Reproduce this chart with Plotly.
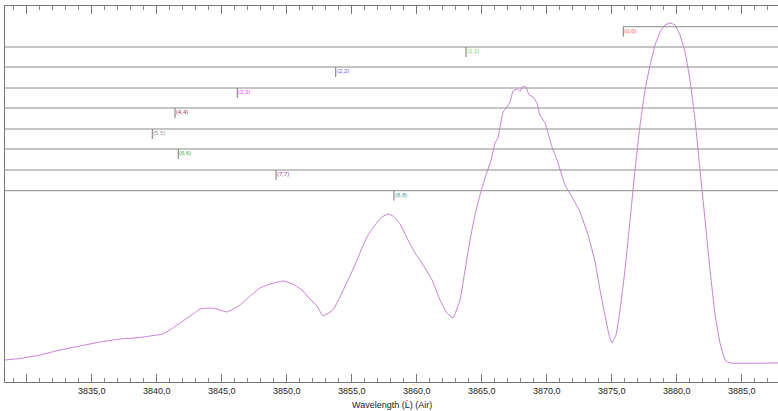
import plotly.graph_objects as go

# Spectrum (wavelength in Å, relative intensity in arbitrary units)
wavelength = [3828.33, 3829.48, 3831.02, 3832.56, 3834.10, 3835.64, 3837.18, 3838.72, 3839.48,
              3840.48, 3841.25, 3842.02, 3842.79, 3843.33, 3844.10, 3844.64, 3845.41, 3846.41,
              3847.18, 3847.95, 3848.72, 3849.72, 3850.48, 3851.25, 3851.79, 3852.33, 3852.79,
              3853.56, 3854.10, 3854.64, 3855.25, 3855.79, 3856.25, 3856.79, 3857.33, 3857.79,
              3858.18, 3858.72, 3859.33, 3859.87, 3860.64, 3861.18, 3861.79, 3862.33, 3862.79,
              3863.33, 3863.72, 3864.10, 3864.48, 3864.87, 3865.25, 3865.72, 3866.02, 3866.25,
              3866.41, 3866.64, 3866.95, 3867.18, 3867.41, 3867.72, 3867.95, 3868.18, 3868.41,
              3868.64, 3868.95, 3869.25, 3869.48, 3869.87, 3870.10, 3870.41, 3870.79, 3871.41,
              3871.95, 3872.56, 3873.18, 3873.72, 3874.10, 3874.48, 3874.79, 3875.02, 3875.33,
              3875.64, 3876.02, 3876.41, 3876.79, 3877.18, 3877.56, 3877.95, 3878.33, 3878.72,
              3879.10, 3879.48, 3879.87, 3880.25, 3880.64, 3881.02, 3881.41, 3881.79, 3882.18,
              3882.56, 3882.95, 3883.33, 3883.72, 3884.10, 3887.79]
intensity = [22, 23.5, 27, 32, 36, 40, 43, 44.5, 46,
             48, 54, 61, 68, 73, 74, 73, 70, 77,
             86, 94, 98, 101, 98, 91, 83, 76, 66,
             72, 85, 100, 117, 134, 147, 157, 165, 168,
             166, 158, 142, 129, 114, 102, 82, 69, 64,
             82, 112, 142, 167, 187, 204, 222, 239, 244,
             255, 270, 275, 280, 291, 293, 291, 296, 295,
             287, 285, 279, 267, 259, 249, 235, 222, 197,
             185, 170, 147, 120, 92, 67, 47, 39, 47,
             72, 112, 162, 212, 257, 292, 317, 337, 350,
             357, 359, 357, 347, 330, 302, 262, 212, 162,
             112, 67, 39, 22, 19, 19]

# Band heads
band_labels = ["(0,0)", "(1,1)", "(2,2)", "(3,3)", "(4,4)", "(5,5)", "(6,6)", "(7,7)", "(8,8)"]
band_heads = [3875.89, 3863.79, 3853.77, 3846.20, 3841.41, 3839.66, 3841.66, 3849.18, 3858.25]
band_levels = [355.3, 335, 315, 294, 274, 253, 233, 212, 191.3]
band_colors = ["#ff5a5a", "#5ad85a", "#6060ff", "#ff40ff", "#a0304a", "#9a9a9a", "#3cb43c", "#a040a8", "#3ca8a8"]

tick_vals = [3830, 3835, 3840, 3845, 3850, 3855, 3860, 3865, 3870, 3875, 3880, 3885]
tick_text = ["", "3835,0", "3840,0", "3845,0", "3850,0", "3855,0", "3860,0",
             "3865,0", "3870,0", "3875,0", "3880,0", "3885,0"]

FONT = "Liberation Sans, Arial, sans-serif"

fig = go.Figure()
fig.add_trace(go.Scatter(x=wavelength, y=intensity, mode="lines",
                         line=dict(color="#c47fd3", width=1, shape="spline", smoothing=0.3),
                         hoverinfo="skip", showlegend=False))

shapes = []
annotations = []
for i, (lab, head, lev, col) in enumerate(zip(band_labels, band_heads, band_levels, band_colors)):
    if i == 0:
        shapes.append(dict(type="line", xref="x", yref="y", x0=head, x1=3887.79, y0=lev, y1=lev,
                           line=dict(color="#8a8a8a", width=1), layer="below"))
    else:
        shapes.append(dict(type="line", xref="paper", yref="y", x0=0, x1=1, y0=lev, y1=lev,
                           line=dict(color="#8a8a8a", width=1), layer="below"))
    shapes.append(dict(type="line", xref="x", yref="y", x0=head, x1=head, y0=lev, y1=lev - 10,
                       line=dict(color="#777777", width=1)))
    annotations.append(dict(x=head, y=lev, xref="x", yref="y", text=lab, showarrow=False,
                            xanchor="left", yanchor="top", xshift=-1, yshift=1,
                            font=dict(family=FONT, size=6, color=col)))

annotations.append(dict(x=0.5, y=0, xref="paper", yref="paper", text="Wavelength (Ĺ) (Air)",
                        showarrow=False, xanchor="center", yanchor="top", yshift=-16,
                        font=dict(family=FONT, size=9, color="#222222")))

fig.update_layout(
    width=778, height=411,
    margin=dict(l=5, r=0, t=6, b=29, autoexpand=False),
    paper_bgcolor="white", plot_bgcolor="white",
    shapes=shapes, annotations=annotations,
    xaxis=dict(range=[3828.33, 3887.79], showgrid=False, zeroline=False, automargin=False,
               showline=True, linecolor="#777777", linewidth=1, mirror="ticks",
               ticks="inside", ticklen=8, tickcolor="#777777", tickwidth=1,
               tickvals=tick_vals, ticktext=tick_text,
               tickfont=dict(family=FONT, size=9, color="#222222"),
               minor=dict(ticks="inside", ticklen=4, dtick=1, tickcolor="#888888", showgrid=False)),
    yaxis=dict(range=[0, 376], showgrid=False, zeroline=False, showticklabels=False, automargin=False,
               showline=True, linecolor="#777777", linewidth=1, ticks=""),
)

fig.write_html("out.html", config={"displayModeBar": False},
               post_script="document.body.style.margin='0';document.body.style.overflow='hidden';")
